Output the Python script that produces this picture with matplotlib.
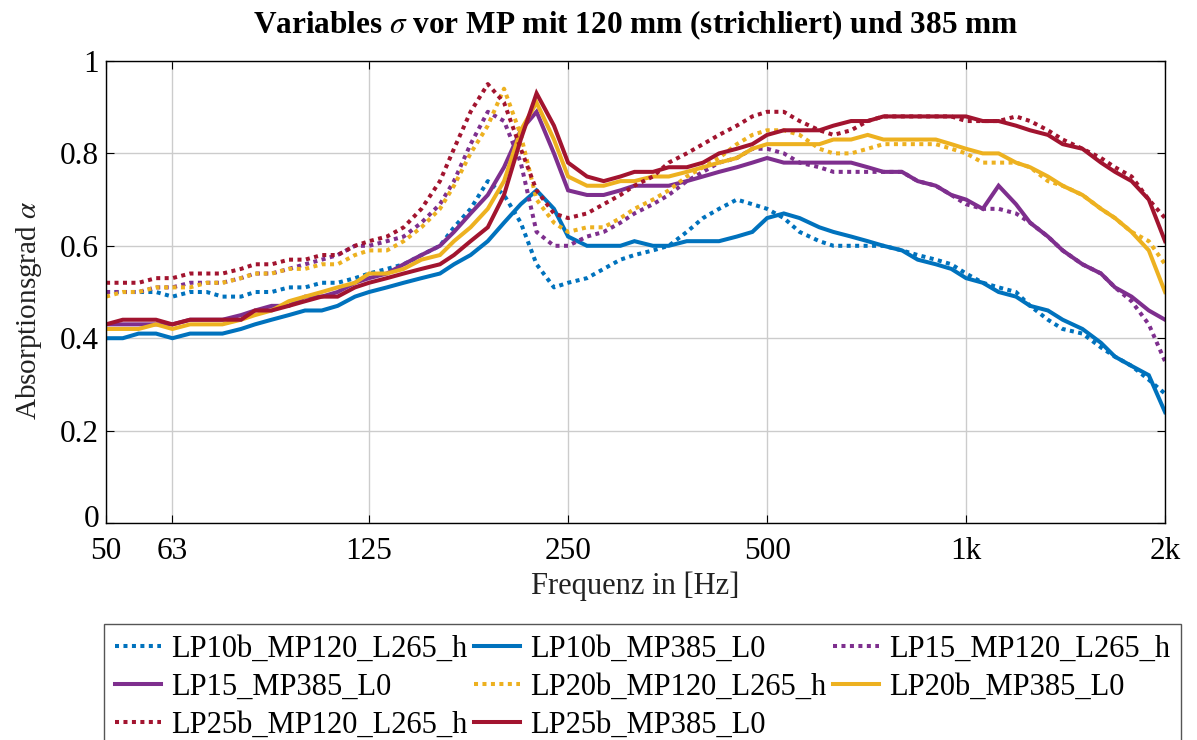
"""Absorptionsgrad über Frequenz, Varianten mit MP120 (gepunktet) und MP385."""

import matplotlib

matplotlib.use("Agg")
import matplotlib.pyplot as plt
from matplotlib.ticker import FixedLocator, NullLocator
from matplotlib.transforms import ScaledTranslation

BLUE = "#0072BD"
PURPLE = "#7E2F8E"
YELLOW = "#EDB120"
RED = "#A2142F"

# 1/12-Oktav-Frequenzen in Hz
freq = [50, 53, 56, 59.5, 63, 67, 71, 75, 80, 84,
        89, 94.5, 100, 106, 112, 119, 125, 133, 141, 150,
        160, 168, 178, 189, 200, 212, 224, 238, 250, 267,
        283, 300, 315, 336, 355, 378, 400, 423, 450, 475,
        500, 530, 560, 600, 630, 670, 710, 750, 800, 845,
        900, 950, 1000, 1060, 1120, 1190, 1250, 1330, 1400, 1500,
        1600, 1680, 1780, 1890, 2000]

lp10b_mp120 = [0.50, 0.50, 0.50, 0.50, 0.49, 0.50, 0.50, 0.49, 0.49, 0.50,
               0.50, 0.51, 0.51, 0.52, 0.52, 0.53, 0.54, 0.55, 0.56, 0.58,
               0.60, 0.64, 0.68, 0.74, 0.71, 0.65, 0.56, 0.51, 0.52, 0.53,
               0.55, 0.57, 0.58, 0.59, 0.60, 0.63, 0.66, 0.68, 0.70, 0.69,
               0.68, 0.66, 0.63, 0.61, 0.60, 0.60, 0.60, 0.60, 0.59, 0.58,
               0.57, 0.56, 0.54, 0.52, 0.51, 0.50, 0.47, 0.44, 0.42, 0.41,
               0.38, 0.36, 0.34, 0.31, 0.28]
lp10b_mp385 = [0.40, 0.40, 0.41, 0.41, 0.40, 0.41, 0.41, 0.41, 0.42, 0.43,
               0.44, 0.45, 0.46, 0.46, 0.47, 0.49, 0.50, 0.51, 0.52, 0.53,
               0.54, 0.56, 0.58, 0.61, 0.65, 0.69, 0.72, 0.68, 0.62, 0.60,
               0.60, 0.60, 0.61, 0.60, 0.60, 0.61, 0.61, 0.61, 0.62, 0.63,
               0.66, 0.67, 0.66, 0.64, 0.63, 0.62, 0.61, 0.60, 0.59, 0.57,
               0.56, 0.55, 0.53, 0.52, 0.50, 0.49, 0.47, 0.46, 0.44, 0.42,
               0.39, 0.36, 0.34, 0.32, 0.24]
lp15_mp120 = [0.50, 0.50, 0.50, 0.51, 0.51, 0.52, 0.52, 0.52, 0.53, 0.54,
              0.54, 0.55, 0.56, 0.57, 0.58, 0.60, 0.60, 0.61, 0.62, 0.65,
              0.69, 0.74, 0.82, 0.89, 0.87, 0.78, 0.63, 0.60, 0.60, 0.62,
              0.63, 0.65, 0.67, 0.69, 0.71, 0.74, 0.76, 0.78, 0.79, 0.81,
              0.81, 0.80, 0.78, 0.77, 0.76, 0.76, 0.76, 0.76, 0.76, 0.74,
              0.73, 0.71, 0.69, 0.68, 0.68, 0.67, 0.65, 0.62, 0.59, 0.56,
              0.54, 0.51, 0.48, 0.43, 0.35]
lp15_mp385 = [0.43, 0.43, 0.43, 0.43, 0.43, 0.44, 0.44, 0.44, 0.45, 0.46,
              0.47, 0.47, 0.49, 0.49, 0.50, 0.52, 0.53, 0.54, 0.56, 0.58,
              0.60, 0.63, 0.67, 0.71, 0.77, 0.85, 0.89, 0.80, 0.72, 0.71,
              0.71, 0.72, 0.73, 0.73, 0.73, 0.74, 0.75, 0.76, 0.77, 0.78,
              0.79, 0.78, 0.78, 0.78, 0.78, 0.78, 0.77, 0.76, 0.76, 0.74,
              0.73, 0.71, 0.70, 0.68, 0.73, 0.69, 0.65, 0.62, 0.59, 0.56,
              0.54, 0.51, 0.49, 0.46, 0.44]
lp20b_mp120 = [0.49, 0.50, 0.50, 0.51, 0.51, 0.51, 0.52, 0.52, 0.53, 0.54,
               0.54, 0.55, 0.55, 0.56, 0.56, 0.58, 0.59, 0.59, 0.61, 0.64,
               0.68, 0.73, 0.80, 0.86, 0.94, 0.84, 0.70, 0.65, 0.63, 0.64,
               0.64, 0.66, 0.68, 0.70, 0.72, 0.75, 0.77, 0.79, 0.82, 0.84,
               0.85, 0.85, 0.84, 0.81, 0.80, 0.80, 0.81, 0.82, 0.82, 0.82,
               0.82, 0.81, 0.80, 0.78, 0.78, 0.78, 0.77, 0.74, 0.73, 0.71,
               0.68, 0.66, 0.63, 0.61, 0.56]
lp20b_mp385 = [0.42, 0.42, 0.42, 0.43, 0.42, 0.43, 0.43, 0.43, 0.44, 0.45,
               0.46, 0.48, 0.49, 0.50, 0.51, 0.52, 0.54, 0.54, 0.55, 0.57,
               0.58, 0.61, 0.64, 0.68, 0.74, 0.85, 0.91, 0.83, 0.75, 0.73,
               0.73, 0.74, 0.74, 0.75, 0.75, 0.76, 0.77, 0.78, 0.79, 0.81,
               0.82, 0.82, 0.82, 0.82, 0.83, 0.83, 0.84, 0.83, 0.83, 0.83,
               0.83, 0.82, 0.81, 0.80, 0.80, 0.78, 0.77, 0.75, 0.73, 0.71,
               0.68, 0.66, 0.63, 0.59, 0.50]
lp25b_mp120 = [0.52, 0.52, 0.52, 0.53, 0.53, 0.54, 0.54, 0.54, 0.55, 0.56,
               0.56, 0.57, 0.57, 0.58, 0.58, 0.60, 0.61, 0.62, 0.64, 0.68,
               0.74, 0.81, 0.89, 0.95, 0.91, 0.81, 0.72, 0.67, 0.66, 0.67,
               0.69, 0.71, 0.73, 0.75, 0.78, 0.80, 0.82, 0.84, 0.86, 0.88,
               0.89, 0.89, 0.87, 0.85, 0.84, 0.85, 0.87, 0.88, 0.88, 0.88,
               0.88, 0.88, 0.87, 0.87, 0.87, 0.88, 0.87, 0.85, 0.83, 0.81,
               0.79, 0.77, 0.75, 0.70, 0.66]
lp25b_mp385 = [0.43, 0.44, 0.44, 0.44, 0.43, 0.44, 0.44, 0.44, 0.44, 0.46,
               0.46, 0.47, 0.48, 0.49, 0.49, 0.51, 0.52, 0.53, 0.54, 0.55,
               0.56, 0.58, 0.61, 0.64, 0.71, 0.83, 0.93, 0.86, 0.78, 0.75,
               0.74, 0.75, 0.76, 0.76, 0.77, 0.77, 0.78, 0.80, 0.81, 0.82,
               0.84, 0.85, 0.85, 0.85, 0.86, 0.87, 0.87, 0.88, 0.88, 0.88,
               0.88, 0.88, 0.88, 0.87, 0.87, 0.86, 0.85, 0.84, 0.82, 0.81,
               0.78, 0.76, 0.74, 0.70, 0.61]

series = [
    ("LP10b_MP120_L265_h", lp10b_mp120, BLUE, True),
    ("LP10b_MP385_L0", lp10b_mp385, BLUE, False),
    ("LP15_MP120_L265_h", lp15_mp120, PURPLE, True),
    ("LP15_MP385_L0", lp15_mp385, PURPLE, False),
    ("LP20b_MP120_L265_h", lp20b_mp120, YELLOW, True),
    ("LP20b_MP385_L0", lp20b_mp385, YELLOW, False),
    ("LP25b_MP120_L265_h", lp25b_mp120, RED, True),
    ("LP25b_MP385_L0", lp25b_mp385, RED, False),
]

xticks = [50, 63, 125, 250, 500, 1000, 2000]
xticklabels = ["50", "63", "125", "250", "500", "1k", "2k"]
yticks = [0, 0.2, 0.4, 0.6, 0.8, 1]
yticklabels = ["0", "0.2", "0.4", "0.6", "0.8", "1"]

plt.rcParams["font.family"] = ["Liberation Serif", "DejaVu Serif"]
plt.rcParams["mathtext.fontset"] = "stix"

fig = plt.figure(figsize=(11.97, 7.40), dpi=100)
ax = fig.add_axes([0.0886, 0.2932, 0.8847, 0.6244])

handles = []
for label, values, color, dotted in series:
    if dotted:
        (h,) = ax.plot(freq, values, color=color, lw=2.9,
                       linestyle=(0, (1, 1.1)), label=label)
    else:
        (h,) = ax.plot(freq, values, color=color, lw=2.9,
                       solid_joinstyle="miter", label=label)
    handles.append(h)

ax.set_xscale("log")
ax.set_xlim(50, 2000)
ax.set_ylim(0, 1)
ax.xaxis.set_major_locator(FixedLocator(xticks))
ax.xaxis.set_minor_locator(NullLocator())
ax.set_xticklabels(xticklabels)
ax.set_yticks(yticks)
ax.set_yticklabels(yticklabels)
ax.tick_params(direction="in", top=True, right=True, length=6, width=0.8,
               labelsize=22.5)
ax.tick_params(axis="x", pad=10)
ax.tick_params(axis="y", pad=5)
ax.grid(True, color="#cccccc", linewidth=1.0)
for spine in ax.spines.values():
    spine.set_linewidth(1.0)

# die "0" der y-Achse etwas anheben, damit sie nicht an der "50" klebt
zero_label = ax.get_yticklabels()[0]
zero_label.set_transform(zero_label.get_transform()
                         + ScaledTranslation(0, 5 / 72, fig.dpi_scale_trans))

ax.set_xlabel("Frequenz in [Hz]", fontsize=22, color="#222222", labelpad=4)
ax.set_ylabel(r"Absorptionsgrad $\alpha$", fontsize=21, color="#222222")
ax.yaxis.set_label_coords(-0.059, 0.46)
ax.set_title(r"Variables $\sigma$ vor MP mit 120 mm (strichliert) und 385 mm",
             fontsize=22.5, fontweight="bold", pad=20)

# Legende zeilenweise auffüllen (matplotlib füllt spaltenweise)
order = [0, 3, 6, 1, 4, 7, 2, 5]
leg = fig.legend([handles[i] for i in order], [series[i][0] for i in order],
                 loc="upper left", bbox_to_anchor=(0.087, 0.157),
                 borderaxespad=0, ncol=3, fontsize=22, handlelength=1.5,
                 handletextpad=0.35, columnspacing=0.2, labelspacing=0.3,
                 borderpad=0.35, fancybox=False, framealpha=1,
                 edgecolor="#555555")
leg.get_frame().set_linewidth(1.0)

fig.savefig("out.png", dpi=100)
plt.close(fig)
